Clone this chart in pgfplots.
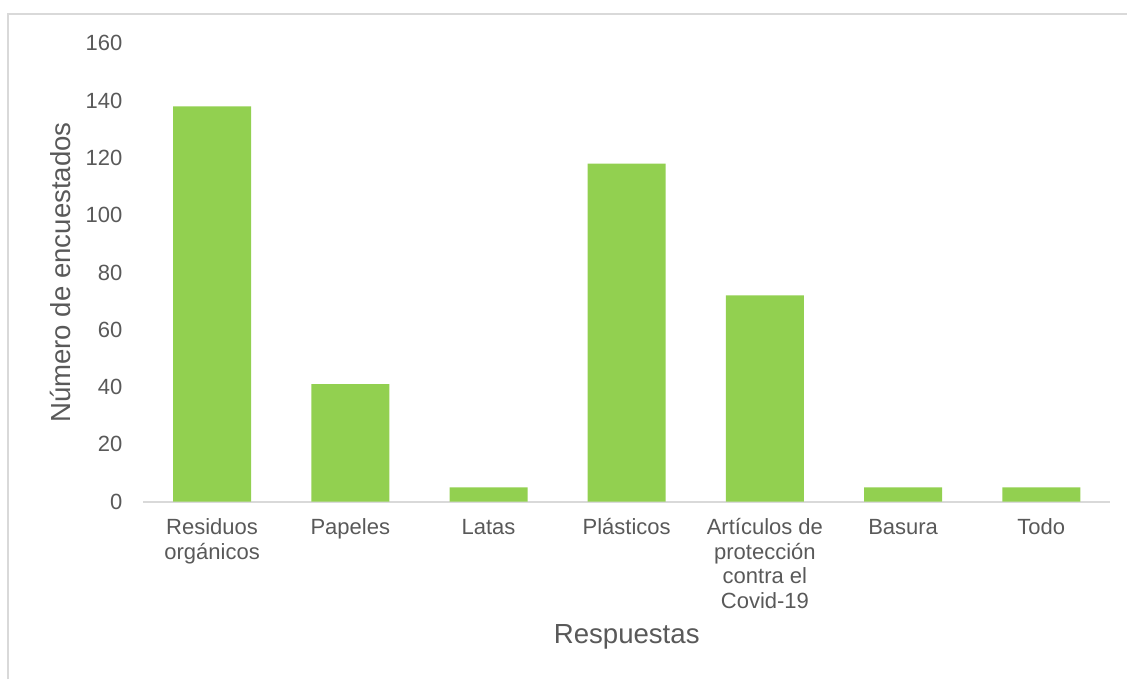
\documentclass[border=0pt]{standalone}
\usepackage{fontspec}
\setmainfont{Liberation Sans}
\usepackage{pgfplots}
\pgfplotsset{compat=1.18}

\definecolor{barGreen}{HTML}{92D050}
\definecolor{textGray}{HTML}{595959}
\definecolor{lineGray}{HTML}{D9D9D9}

\begin{document}
\begin{tikzpicture}
  % page size and the outer chart frame
  \useasboundingbox (0,0) rectangle (563.5pt,339.5pt);
  \draw[lineGray, line width=1pt] (3.75pt,0pt) -- (3.75pt,332.25pt) -- (563.5pt,332.25pt);
  \begin{axis}[
    at={(71.5pt,88.65pt)}, anchor=south west,
    scale only axis,
    width=483.7pt, height=229.2pt,
    xmin=-0.5, xmax=6.5,
    ymin=0, ymax=160,
    ytick={0,20,...,160},
    xtick={0,...,6},
    xticklabels={{\strut Residuos\\orgánicos},{\strut Papeles},{\strut Latas},{\strut Plásticos},{\strut Artículos de\\protección\\contra el\\Covid-19},{\strut Basura},{\strut Todo}},
    axis x line*=bottom,
    axis y line*=left,
    x axis line style={lineGray, line width=1pt, -},
    y axis line style={draw=none},
    major tick length=0pt,
    /pgf/number format/assume math mode=true,
    tick label style={font=\fontsize{11}{12.25}\selectfont, text=textGray},
    xticklabel style={align=center, anchor=north, yshift=-4.5pt},
    yticklabel style={xshift=-6.8pt},
    xlabel={Respuestas},
    ylabel={Número de encuestados},
    label style={font=\fontsize{13.8}{15}\selectfont, text=textGray},
    xlabel style={at={(axis description cs:0.5,-0.295)}, anchor=center},
    ylabel style={at={(axis description cs:-0.0858,0.5)}, anchor=center, rotate=0},
    clip=false,
  ]
    \addplot[ybar, bar width=39pt, fill=barGreen, draw=none]
      coordinates {(0,138) (1,41) (2,5) (3,118) (4,72) (5,5) (6,5)};
  \end{axis}
\end{tikzpicture}
\end{document}
